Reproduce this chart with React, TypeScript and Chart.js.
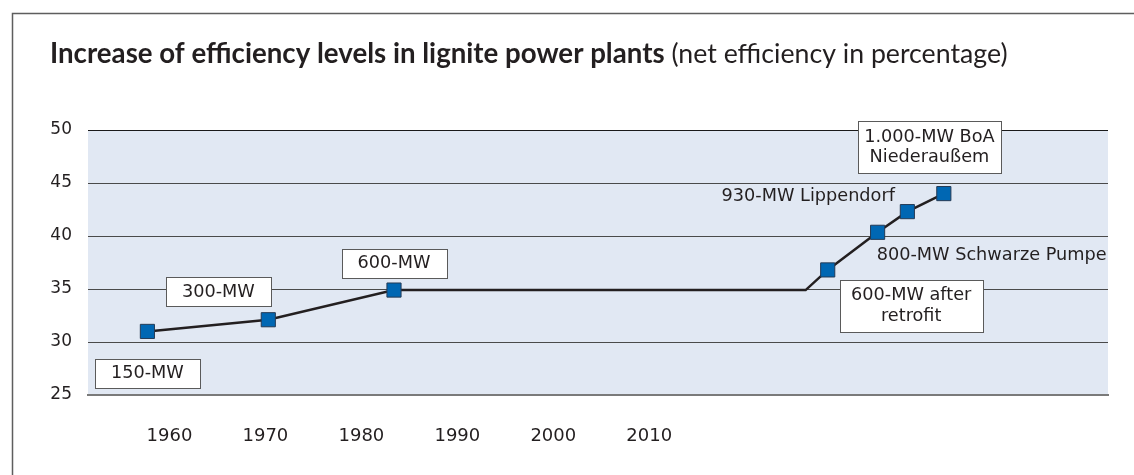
import React, { useEffect, useRef } from "react";
import { Chart, registerables } from "chart.js";

Chart.register(...registerables);

const YEARS = [1957.7, 1970.3, 1983.4, 2026.3, 2028.6, 2033.8, 2036.9, 2040.7];
const EFFICIENCY = [31.0, 32.1, 34.9, 34.9, 36.8, 40.35, 42.3, 44.0];
const MARKER_SHOWN = [true, true, true, false, true, true, true, true];
const X_TICKS = [1960, 1970, 1980, 1990, 2000, 2010];
const Y_TICKS = [25, 30, 35, 40, 45, 50];

const TITLE_BOLD = "Increase of efficiency levels in lignite power plants";
const TITLE_REGULAR = " (net efficiency in percentage)";

// annotation labels: text lines, anchor in data units, boxed or not, alignment
const LABEL_TEXTS = [
  ["150-MW"],
  ["300-MW"],
  ["600-MW"],
  ["1.000-MW BoA", "Niederaußem"],
  ["930-MW Lippendorf"],
  ["800-MW Schwarze Pumpe"],
  ["600-MW after", "retrofit"],
];
const LABEL_X = [1957.7, 1965.1, 1983.4, 2039.2, 2035.6, 2033.7, 2037.3];
const LABEL_Y = [27.0, 34.72, 37.45, 48.35, 43.77, 38.2, 33.42];
const LABEL_BOXED = [true, true, true, true, false, false, true];
const LABEL_ALIGN = ["center", "center", "center", "center", "right", "left", "center"];

const TEXT_COLOR = "#231f20";
const LABEL_FONT = "17.7px 'DejaVu Sans'";

const overlayPlugin = {
  id: "overlay",
  beforeDraw(chart: any) {
    const { ctx, chartArea } = chart;
    ctx.save();
    ctx.fillStyle = "#e1e8f3";
    ctx.fillRect(chartArea.left, chartArea.top, chartArea.right - chartArea.left, chartArea.bottom - chartArea.top);
    // outer frame
    ctx.strokeStyle = "#5e5e5e";
    ctx.lineWidth = 1.5;
    ctx.beginPath();
    ctx.moveTo(12.5, 475);
    ctx.lineTo(12.5, 13.5);
    ctx.lineTo(1134, 13.5);
    ctx.stroke();
    // title
    ctx.fillStyle = TEXT_COLOR;
    ctx.textBaseline = "alphabetic";
    ctx.textAlign = "left";
    ctx.font = "bold 22px Lato";
    const w0 = ctx.measureText(TITLE_BOLD).width;
    const size = (22 * 615) / w0;
    ctx.font = `bold ${size}px Lato`;
    ctx.fillText(TITLE_BOLD, 50, 63);
    const wb = ctx.measureText(TITLE_BOLD).width;
    ctx.font = `22px Lato`;
    const w1 = ctx.measureText(TITLE_REGULAR).width;
    const size2 = (22 * 343) / w1;
    ctx.font = `${size2}px Lato`;
    ctx.fillText(TITLE_REGULAR, 50 + wb, 63);
    ctx.restore();
  },
  afterDatasetsDraw(chart: any) {
    const { ctx } = chart;
    const xs = chart.scales.x;
    const ys = chart.scales.y;
    ctx.save();
    ctx.font = LABEL_FONT;
    ctx.textBaseline = "middle";
    LABEL_TEXTS.forEach((lines, i) => {
      const cx = xs.getPixelForValue(LABEL_X[i]);
      const cy = ys.getPixelForValue(LABEL_Y[i]);
      const lineH = 20.7;
      if (LABEL_BOXED[i]) {
        const bw = lines.length > 1 ? 143 : 105;
        const bh = lines.length > 1 ? 52 : 29;
        const bx = Math.round(cx - bw / 2) + 0.5;
        const by = Math.round(cy - bh / 2) + 0.5;
        ctx.fillStyle = "#ffffff";
        ctx.fillRect(bx, by, bw, bh);
        ctx.strokeStyle = "#5a5a5a";
        ctx.lineWidth = 1;
        ctx.strokeRect(bx, by, bw, bh);
      }
      ctx.fillStyle = TEXT_COLOR;
      ctx.textAlign = LABEL_ALIGN[i] as CanvasTextAlign;
      lines.forEach((t, k) => {
        const ty = cy + (k - (lines.length - 1) / 2) * lineH;
        ctx.fillText(t, cx, ty);
      });
    });
    ctx.restore();
  },
};

export default function App() {
  const ref = useRef<HTMLCanvasElement>(null);
  useEffect(() => {
    document.body.style.margin = "0";
    const chart = new Chart(ref.current!, {
      type: "line",
      data: {
        datasets: [
          {
            data: YEARS.map((x, i) => ({ x, y: EFFICIENCY[i] })),
            borderColor: "#231f20",
            borderWidth: 2.5,
            pointStyle: "rect",
            pointRadius: MARKER_SHOWN.map((s) => (s ? 10 : 0)),
            pointBackgroundColor: "#0067b3",
            pointBorderColor: "#243a55",
            pointBorderWidth: 1,
            tension: 0,
          },
        ],
      },
      options: {
        animation: false,
        responsive: false,
        events: [],
        layout: { padding: { left: 0, right: 26, top: 130, bottom: 0 } },
        plugins: { legend: { display: false }, tooltip: { enabled: false }, title: { display: false } },
        scales: {
          x: {
            type: "linear",
            min: 1951.51,
            max: 2057.81,
            afterBuildTicks: (s: any) => {
              s.ticks = X_TICKS.map((v) => ({ value: v }));
            },
            afterFit: (s: any) => {
              s.height = 80;
            },
            grid: { display: false, drawTicks: false },
            border: { display: true, color: "#7a7a7a", width: 2 },
            ticks: {
              padding: 31,
              color: TEXT_COLOR,
              font: { family: "'DejaVu Sans'", size: 18 },
              callback: (v: any) => String(v),
              maxRotation: 0,
              autoSkip: false,
            },
          },
          y: {
            min: 25,
            max: 50,
            afterBuildTicks: (s: any) => {
              s.ticks = Y_TICKS.map((v) => ({ value: v }));
            },
            afterFit: (s: any) => {
              s.width = 88;
            },
            grid: {
              drawTicks: false,
              color: (c: any) => (c.tick && c.tick.value === 50 ? "#1a1a1a" : "#4a4a4a"),
              lineWidth: 1,
            },
            border: { display: false },
            ticks: {
              padding: 16,
              color: TEXT_COLOR,
              font: { family: "'DejaVu Sans'", size: 17 },
              callback: (v: any) => String(v),
            },
          },
        },
      },
      plugins: [overlayPlugin],
    });
    return () => chart.destroy();
  }, []);
  return (
    <div style={{ width: 1134, height: 475, background: "#fff" }}>
      <canvas ref={ref} width={1134} height={475} style={{ display: "block" }} />
    </div>
  );
}
